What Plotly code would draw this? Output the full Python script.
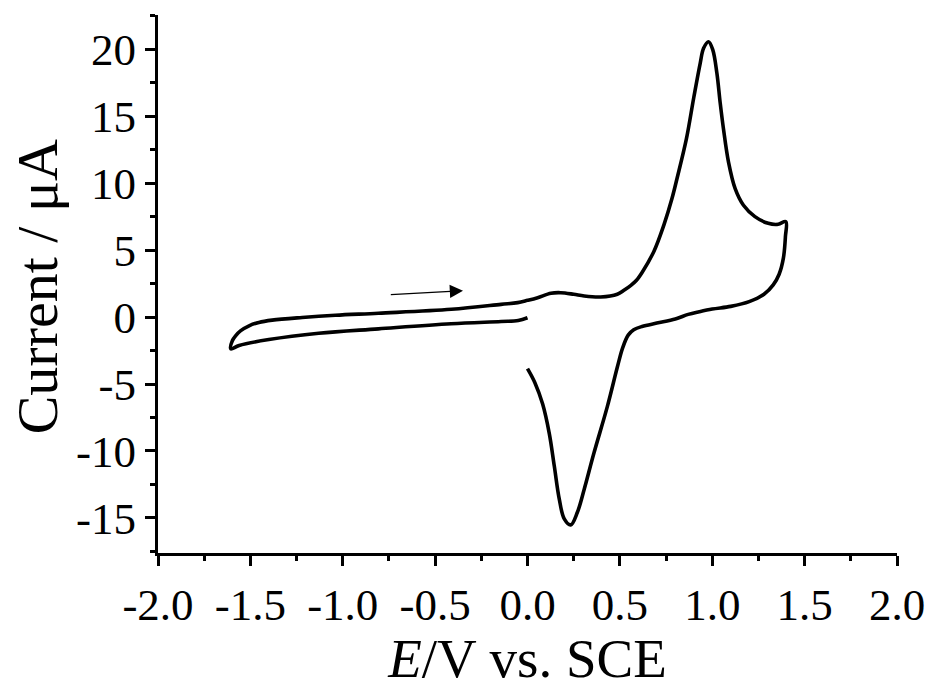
import numpy as np
import plotly.graph_objects as go

# Cyclic voltammogram, in scan order (E in V vs. SCE, I in µA)
E = [0.0, -0.05, -0.143, -0.413, -0.807, -1.13, -1.40, -1.561, -1.606,
     -1.597, -1.579, -1.552, -1.507, -1.454, -1.382, -1.22, -1.04, -0.807,
     -0.412, -0.143, -0.053, 0.0, 0.055, 0.127, 0.18, 0.25, 0.307, 0.396,
     0.486, 0.522, 0.558, 0.59, 0.621, 0.684, 0.738, 0.782, 0.809, 0.86,
     0.90, 0.935, 0.953, 0.98, 1.003, 1.025, 1.043, 1.061, 1.088, 1.124,
     1.169, 1.231, 1.303, 1.357, 1.398,
     1.396, 1.385, 1.362, 1.33, 1.28, 1.20, 1.10, 1.00, 0.93,
     0.87, 0.80, 0.70, 0.62, 0.575, 0.545, 0.515, 0.486, 0.432, 0.360, 0.307,
     0.27, 0.234, 0.199, 0.172, 0.145, 0.118, 0.082, 0.040, 0.0]
I = [-0.05, -0.26, -0.33, -0.50, -0.88, -1.21, -1.68, -2.12, -2.37,
     -1.75, -1.38, -1.01, -0.65, -0.40, -0.23, -0.03, 0.14, 0.29,
     0.58, 0.95, 1.08, 1.25, 1.45, 1.78, 1.82, 1.70, 1.57, 1.50,
     1.70, 2.0, 2.35, 2.75, 3.35, 4.9, 6.87, 8.85, 10.33, 13.3,
     16.4, 18.97, 20.07, 20.56, 19.95, 18.23, 16.0, 14.03, 11.57, 9.59,
     8.35, 7.50, 7.0, 6.93, 7.13,
     6.0, 4.4, 3.2, 2.4, 1.7, 1.15, 0.8, 0.6, 0.4,
     0.2, -0.15, -0.45, -0.70, -0.95, -1.35, -2.3, -3.75, -6.69, -10.14, -12.86,
     -14.58, -15.52, -15.07, -13.6, -11.13, -8.7, -6.5, -4.9, -3.85]

x_ticks = [-2.0, -1.5, -1.0, -0.5, 0.0, 0.5, 1.0, 1.5, 2.0]
x_labels = ["-2.0", "-1.5", "-1.0", "-0.5", "0.0", "0.5", "1.0", "1.5", "2.0"]
y_ticks = [-15, -10, -5, 0, 5, 10, 15, 20]
y_labels = ["-15", "-10", "-5", "0", "5", "10", "15", "20"]

# scan direction arrow (tail -> head), data coordinates
arrow_E = [-0.748, -0.349]
arrow_I = [1.67, 1.97]

FONT = "Liberation Serif"
W, H = 937, 689
ML, MR, MT, MB = 158, 36, 15, 131

fig = go.Figure()
fig.add_trace(go.Scatter(x=E, y=I, mode="lines",
                         line=dict(color="black", width=3.6, shape="spline", smoothing=1.0),
                         showlegend=False, hoverinfo="skip"))

fig.add_annotation(x=arrow_E[1], y=arrow_I[1], ax=arrow_E[0], ay=arrow_I[0],
                   xref="x", yref="y", axref="x", ayref="y",
                   showarrow=True, arrowhead=2, arrowsize=2.2, arrowwidth=1.2,
                   arrowcolor="black", text="")

# y-axis title placed as a rotated annotation
fig.add_annotation(text="Current / μA", xref="paper", yref="paper",
                   x=(37 - ML) / (W - ML - MR), y=0.495, xanchor="center", yanchor="middle",
                   textangle=-90, showarrow=False,
                   font=dict(family=FONT, size=58, color="black"))

axis_common = dict(showline=True, linewidth=3, linecolor="black", mirror=False,
                   ticks="outside", ticklen=10, tickwidth=3, tickcolor="black",
                   showgrid=False, zeroline=False,
                   tickfont=dict(family=FONT, size=45, color="black"))

fig.update_xaxes(range=[-2.0, 2.0], tickmode="array", tickvals=x_ticks, ticktext=x_labels,
                 minor=dict(tickmode="array", tickvals=list(np.arange(-1.75, 2.0, 0.5)),
                            ticks="outside", ticklen=5, tickwidth=3, tickcolor="black"),
                 title=dict(text="<i>E</i>/V vs. SCE", font=dict(family=FONT, size=55, color="black"),
                            standoff=8),
                 **axis_common)
fig.update_yaxes(range=[-17.62, 22.56], tickmode="array", tickvals=y_ticks, ticktext=y_labels,
                 minor=dict(tickmode="array", tickvals=list(np.arange(-17.5, 23.0, 5.0)),
                            ticks="outside", ticklen=5, tickwidth=3, tickcolor="black"),
                 **axis_common)

fig.update_layout(width=W, height=H, margin=dict(l=ML, r=MR, t=MT, b=MB),
                  paper_bgcolor="white", plot_bgcolor="white")

fig.write_html("out.html")
